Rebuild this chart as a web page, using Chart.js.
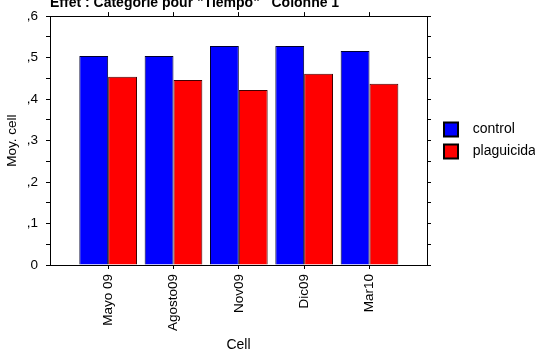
<!DOCTYPE html>
<html>
<head>
<meta charset="utf-8">
<script src="https://cdn.jsdelivr.net/npm/chart.js@4"></script>
<style>
  html, body { margin: 0; padding: 0; background: #fff; }
  #wrap { width: 535px; height: 349px; }
</style>
</head>
<body>
<div id="wrap"><canvas id="chart" width="535" height="349"></canvas></div>
<script>
// values
const categories = ["Mayo 09", "Agosto09", "Nov09", "Dic09", "Mar10"];
const control = [0.504, 0.504, 0.528, 0.528, 0.516];
const plaguicida = [0.454, 0.446, 0.422, 0.461, 0.437];
const yTickLabels = ["0", ",1", ",2", ",3", ",4", ",5", ",6"];

const toPoints = arr => arr.map((v, i) => ({ x: i, y: v }));
const catTicks = s => { s.ticks = categories.map((c, i) => ({ value: i })); };
const font = { family: "Liberation Sans, Arial, sans-serif", size: 13.5 };

const ctx = document.getElementById("chart").getContext("2d");

new Chart(ctx, {
  type: "bar",
  data: {
    datasets: [{
      label: "control",
      data: toPoints(control),
      backgroundColor: "#0000ff",
      borderColor: "#000030",
      borderWidth: 1,
      borderSkipped: "bottom",
      categoryPercentage: 0.883,
      barPercentage: 1
    }, {
      label: "plaguicida",
      data: toPoints(plaguicida),
      backgroundColor: "#ff0000",
      borderColor: "#400000",
      borderWidth: 1,
      borderSkipped: "bottom",
      categoryPercentage: 0.883,
      barPercentage: 1
    }]
  },
  options: {
    responsive: false,
    animation: false,
    layout: { padding: 0 },
    scales: {
      x: {
        type: "linear",
        position: "bottom",
        offset: false,
        min: -0.89,
        max: 4.88,
        afterBuildTicks: catTicks,
        afterFit: s => { s.height = 84; },
        ticks: {
          callback: v => categories[v],
          minRotation: 90,
          maxRotation: 90,
          autoSkip: false,
          padding: 5,
          color: "#000",
          font: font
        },
        grid: { offset: false, drawOnChartArea: false, tickLength: 4, color: "#000" },
        border: { color: "#000" },
        title: { display: true, text: "Cell", color: "#000", font: { family: font.family, size: 14, lineHeight: 0.6 }, padding: 0 }
      },
      x2: {
        type: "linear",
        position: "top",
        offset: false,
        min: -0.89,
        max: 4.88,
        afterBuildTicks: catTicks,
        afterFit: s => { s.height = 14.5; },
        ticks: { display: false },
        grid: { offset: false, drawOnChartArea: false, tickLength: 4, color: "#000" },
        border: { color: "#000" }
      },
      y: {
        min: 0,
        max: 0.6,
        afterFit: s => { s.width = 50; },
        ticks: {
          stepSize: 0.05,
          callback: v => {
            const k = Math.round(v * 100);
            return k % 10 === 0 ? yTickLabels[k / 10] : "";
          },
          padding: 8,
          color: "#000",
          font: font
        },
        grid: { drawOnChartArea: false, tickLength: 4, color: "#000" },
        border: { color: "#000" },
        title: { display: true, text: "Moy. cell", color: "#000", font: font, padding: { top: 4, bottom: 0 } }
      },
      y2: {
        position: "right",
        min: 0,
        max: 0.6,
        afterFit: s => { s.width = 9; },
        ticks: { display: false, stepSize: 0.05 },
        grid: { drawOnChartArea: false, tickLength: 4, color: "#000" },
        border: { color: "#000" }
      }
    },
    plugins: {
      title: {
        display: true,
        text: "Effet : Catégorie pour \"Tiempo\"   Colonne 1",
        align: "start",
        fullSize: false,
        color: "#000",
        font: { family: "Liberation Sans, Arial, sans-serif", size: 14, weight: "bold", lineHeight: 1.2 },
        padding: { top: -7.3, bottom: -9.5 }
      },
      legend: {
        position: "right",
        fullSize: false,
        maxWidth: 99,
        labels: {
          boxWidth: 14,
          boxHeight: 14,
          padding: 8,
          color: "#000",
          font: { family: font.family, size: 14 },
          generateLabels: chart => Chart.defaults.plugins.legend.labels.generateLabels(chart).map(l => {
            l.text = "  " + l.text;
            l.strokeStyle = "#000";
            l.lineWidth = 2;
            return l;
          })
        }
      },
      tooltip: { enabled: false }
    }
  }
});
</script>
</body>
</html>
